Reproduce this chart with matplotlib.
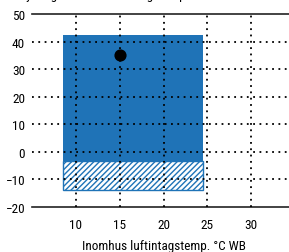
import matplotlib.pyplot as plt
from matplotlib.patches import Rectangle

plt.rcParams['font.family'] = ['Roboto Condensed', 'DejaVu Sans']
plt.rcParams['font.stretch'] = 'condensed'
plt.rcParams['hatch.linewidth'] = 1.0

# drift area (indoor WB range, outdoor DB range)
omrade_x = [8.5, 24.5]
omrade_y = [-3.5, 42.5]
# extended (hatched) range below
utokat_y = [-14, -3.5]
# design point
punkt_x = [15]
punkt_y = [35]

x_ticks = [10, 15, 20, 25, 30]
y_ticks = [-20, -10, 0, 10, 20, 30, 40, 50]

blue = '#1f73b7'

fig = plt.figure(figsize=(2.89, 2.53), dpi=100)
ax = fig.add_axes([0.111, 0.178, 0.91, 0.763])

ax.add_patch(Rectangle((omrade_x[0], omrade_y[0]), omrade_x[1] - omrade_x[0],
                       omrade_y[1] - omrade_y[0], facecolor=blue, edgecolor='none', zorder=1))
ax.add_patch(Rectangle((omrade_x[0], utokat_y[0]), omrade_x[1] - omrade_x[0],
                       utokat_y[1] - utokat_y[0], facecolor='white', edgecolor=blue,
                       hatch='//////', linewidth=1.0, zorder=1))
ax.scatter(punkt_x, punkt_y, color='black', s=60, zorder=4)

ax.set_xlim(5, 35)
ax.set_ylim(-20, 50)
ax.set_xticks(x_ticks)
ax.set_yticks(y_ticks)
ax.tick_params(length=0, labelsize=9.5)
ax.tick_params(axis='y', pad=5)
ax.tick_params(axis='x', pad=8)

for t in x_ticks:
    ax.axvline(t, color='black', linestyle=(0, (1, 2.5)), linewidth=1.3, zorder=3)
for t in y_ticks[1:-1]:
    ax.axhline(t, color='black', linestyle=(0, (1, 2.5)), linewidth=1.3, zorder=3)

ax.spines['left'].set_visible(False)
ax.spines['right'].set_visible(False)
for s in ['top', 'bottom']:
    ax.spines[s].set_color('#222222')
    ax.spines[s].set_linewidth(1.2)

ax.set_xlabel('Inomhus luftintagstemp. °C WB', fontsize=9.5, labelpad=6)
# title sits mostly above the image edge, as in the original
fig.text(0.066, 1.0 + 1.0 / 253, 'Kylning utomhus luftintagstemp. °C DB', fontsize=9.5, va='baseline')

fig.savefig('out.png', dpi=100)
